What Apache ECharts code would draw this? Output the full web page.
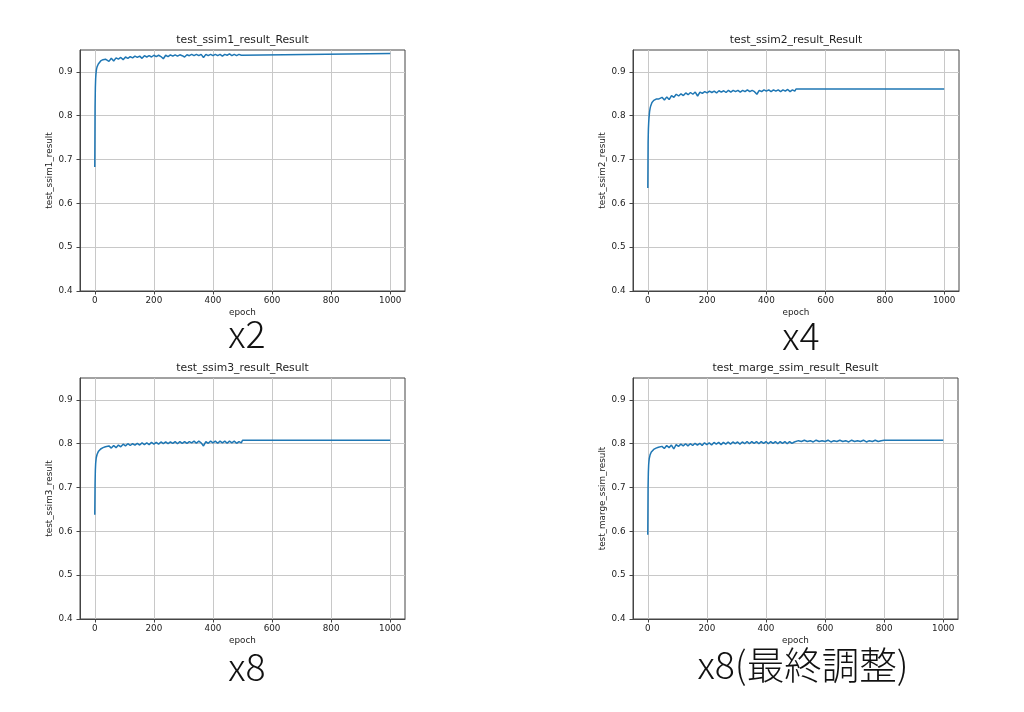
<!DOCTYPE html>
<html><head><meta charset="utf-8">
<script src="https://cdn.jsdelivr.net/npm/echarts@6/dist/echarts.min.js"></script>
<style>html,body{margin:0;padding:0;background:#fff}#c{width:1024px;height:712px}</style>
</head><body><div id="c"></div>
<script>
// ---------- data ----------
const epochs = [0,1,2,3,4,5,6,8,10,12,14,17,20,24,28,32,36,40,
  48,56,64,72,80,88,96,104,112,120,128,136,144,152,160,168,176,184,192,200,
  208,216,224,232,240,248,256,264,272,280,288,296,304,312,320,328,336,344,352,360,
  368,376,384,392,400,408,416,424,432,440,448,456,464,472,480,488,496,500,1000];

const ssim1 = [0.683,0.82,0.865,0.885,0.895,0.902,0.907,0.912,0.916,0.918,0.921,0.922,0.925,0.926,0.928,0.927,0.929,0.930,
  0.924,0.931,0.925,0.932,0.929,0.933,0.928,0.934,0.931,0.935,0.932,0.936,0.933,0.936,0.931,0.937,0.934,0.937,0.934,0.938,
  0.935,0.938,0.935,0.930,0.938,0.935,0.939,0.936,0.939,0.936,0.939,0.937,0.934,0.939,0.937,0.940,0.937,0.940,0.937,0.940,
  0.933,0.940,0.937,0.940,0.937,0.940,0.937,0.940,0.936,0.940,0.938,0.941,0.937,0.940,0.937,0.940,0.938,0.942,0.942];

const ssim2 = [0.635,0.74,0.77,0.785,0.795,0.803,0.81,0.818,0.823,0.827,0.830,0.832,0.835,0.837,0.838,0.840,0.838,0.841,
  0.842,0.836,0.843,0.837,0.846,0.842,0.849,0.845,0.850,0.846,0.852,0.848,0.853,0.849,0.854,0.845,0.854,0.851,0.855,0.852,
  0.856,0.853,0.856,0.852,0.857,0.854,0.857,0.853,0.858,0.854,0.858,0.855,0.858,0.854,0.858,0.855,0.859,0.855,0.858,0.855,
  0.849,0.858,0.855,0.859,0.856,0.859,0.855,0.859,0.856,0.859,0.855,0.859,0.856,0.860,0.855,0.859,0.856,0.861,0.861];

const ssim3 = [0.638,0.71,0.74,0.755,0.762,0.768,0.772,0.776,0.779,0.782,0.784,0.786,0.788,0.789,0.791,0.790,0.793,0.794,
  0.795,0.790,0.796,0.791,0.797,0.793,0.799,0.795,0.800,0.796,0.800,0.797,0.801,0.797,0.802,0.798,0.802,0.798,0.803,0.799,
  0.803,0.799,0.804,0.800,0.804,0.800,0.804,0.801,0.805,0.800,0.805,0.801,0.805,0.801,0.805,0.802,0.806,0.801,0.806,0.802,
  0.795,0.805,0.801,0.806,0.802,0.806,0.801,0.806,0.802,0.806,0.801,0.806,0.802,0.806,0.801,0.805,0.802,0.808,0.808];

const epochsMarge = [0,1,2,3,4,5,6,8,10,12,14,17,20,24,28,32,36,40,
  48,56,64,72,80,88,96,104,112,120,128,136,144,152,160,168,176,184,192,200,
  208,216,224,232,240,248,256,264,272,280,288,296,304,312,320,328,336,344,352,360,
  368,376,384,392,400,408,416,424,432,440,448,456,464,472,480,488,496,
  510,520,530,540,550,560,570,580,590,600,610,620,630,640,650,660,670,680,690,700,
  710,720,730,740,750,760,770,780,790,800,1000];

const margeSsim = [0.592,0.70,0.735,0.752,0.76,0.766,0.77,0.775,0.778,0.781,0.783,0.785,0.787,0.789,0.790,0.788,0.792,0.793,
  0.794,0.789,0.796,0.791,0.797,0.788,0.798,0.794,0.799,0.795,0.800,0.795,0.800,0.796,0.801,0.797,0.801,0.796,0.802,0.798,
  0.802,0.797,0.803,0.799,0.803,0.798,0.803,0.799,0.804,0.799,0.804,0.800,0.804,0.799,0.804,0.800,0.805,0.800,0.805,0.801,
  0.805,0.800,0.805,0.801,0.805,0.800,0.805,0.801,0.805,0.800,0.805,0.801,0.805,0.800,0.805,0.801,0.804,
  0.807,0.805,0.808,0.805,0.807,0.804,0.808,0.805,0.807,0.805,0.808,0.804,0.807,0.805,0.808,0.805,0.807,0.804,0.808,0.805,
  0.807,0.805,0.808,0.804,0.807,0.805,0.808,0.805,0.807,0.808,0.808];

const xTicks = [0,200,400,600,800,1000];
const yTicks = [0.4,0.5,0.6,0.7,0.8,0.9];
const xRange = [-50,1050];
const yRange = [0.4,0.95];

const panelTitles = ['test_ssim1_result_Result','test_ssim2_result_Result','test_ssim3_result_Result','test_marge_ssim_result_Result'];
const yNames = ['test_ssim1_result','test_ssim2_result','test_ssim3_result','test_marge_ssim_result'];
const xName = 'epoch';
const bigLabels = ['x2','x4','x8','x8(最終調整)'];

// ---------- layout ----------
const grids = [
  {left:80, top:50, width:325, height:241},
  {left:633, top:50, width:326, height:241},
  {left:80, top:378, width:325, height:241},
  {left:633, top:378, width:325, height:241}
];
const titleY = [35, 35, 363, 363];
const bigPos = [[247,334],[801,336],[247,667],[803,665]];

const seriesData = [
  epochs.map((e,i)=>[e, ssim1[i]]),
  epochs.map((e,i)=>[e, ssim2[i]]),
  epochs.map((e,i)=>[e, ssim3[i]]),
  epochsMarge.map((e,i)=>[e, margeSsim[i]])
];

const TXT = '#222';
const FONT = 'DejaVu Sans';

const option = {
  animation:false,
  backgroundColor:'#fff',
  title: panelTitles.map((t,i)=>({
    text:t, left: grids[i].left + grids[i].width/2, top: titleY[i], textAlign:'center', padding:0,
    textStyle:{fontFamily:FONT, fontSize:10.8, fontWeight:'normal', color:TXT}
  })),
  grid: grids.map(g=>Object.assign({show:true, borderColor:'#444', borderWidth:1, backgroundColor:'#fff', containLabel:false}, g)),
  xAxis: grids.map((g,i)=>({
    type:'value', gridIndex:i, min:xRange[0], max:xRange[1],
    name:xName, nameLocation:'middle', nameGap:17,
    nameTextStyle:{fontFamily:FONT, fontSize:8.8, color:TXT},
    axisLine:{show:true, onZero:false, lineStyle:{color:'#444', width:1}},
    axisTick:{show:true, inside:false, length:3.5, customValues:xTicks, lineStyle:{color:'#444'}},
    axisLabel:{customValues:xTicks, margin:5.5, fontFamily:FONT, fontSize:8.8, color:TXT,
      formatter:v=>String(v)},
    splitLine:{show:true, lineStyle:{color:'#c8c8c8', width:1}}
  })),
  yAxis: grids.map((g,i)=>({
    type:'value', gridIndex:i, min:yRange[0], max:yRange[1],
    name:yNames[i], nameLocation:'middle', nameGap:26,
    nameTextStyle:{fontFamily:FONT, fontSize:8.8, color:TXT},
    axisLine:{show:true, onZero:false, lineStyle:{color:'#444', width:1}},
    axisTick:{show:true, inside:false, length:3.5, customValues:yTicks, lineStyle:{color:'#444'}},
    axisLabel:{customValues:yTicks, margin:7.5, fontFamily:FONT, fontSize:8.8, color:TXT,
      formatter:v=>v.toFixed(1)},
    splitLine:{show:true, lineStyle:{color:'#c8c8c8', width:1}}
  })),
  series: seriesData.map((d,i)=>({
    type:'line', xAxisIndex:i, yAxisIndex:i, data:d, showSymbol:false, symbol:'none',
    lineStyle:{color:'#1f77b4', width:1.5}, itemStyle:{color:'#1f77b4'}
  })),
  graphic: bigLabels.map((t,i)=>({
    type:'text', x:bigPos[i][0], y:bigPos[i][1],
    style:{text:t, fill:'#111', font:'300 37.5px "Noto Sans CJK JP"', textAlign:'center', textVerticalAlign:'middle'}
  }))
};
const chart = echarts.init(document.getElementById('c'), null, {renderer:'canvas'});
chart.setOption(option);
</script>
</body></html>
